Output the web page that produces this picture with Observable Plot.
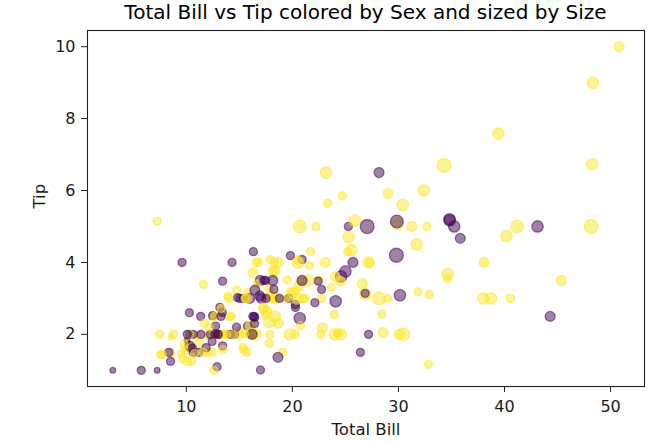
<!DOCTYPE html>
<html>
<head>
<meta charset="utf-8">
<script src="https://cdn.jsdelivr.net/npm/d3@7"></script>
<script src="https://cdn.jsdelivr.net/npm/@observablehq/plot@0.6"></script>
<style>
  body { margin: 0; background: #fff; font-family: "DejaVu Sans", sans-serif; }
  #wrap { position: relative; width: 654px; height: 442px; }
  #title { position: absolute; left: 87px; width: 557px; top: 0px; text-align: center; font-size: 20px; color: #000; white-space: nowrap; z-index: 1; }
  svg { position: absolute; left: 0; top: 0; }
</style>
</head>
<body>
<div id="wrap"><div id="title">Total Bill vs Tip colored by Sex and sized by Size</div></div>
<script>
const totalBill = [16.99,10.34,21.01,23.68,24.59,25.29,8.77,26.88,15.04,14.78,
10.27,35.26,15.42,18.43,14.83,21.58,10.33,16.29,16.97,20.65,
17.92,20.29,15.77,39.42,19.82,17.81,13.37,12.69,21.7,19.65,
9.55,18.35,15.06,20.69,17.78,24.06,16.31,16.93,18.69,31.27,
16.04,17.46,13.94,9.68,30.4,18.29,22.23,32.4,28.55,18.04,
12.54,10.29,34.81,9.94,25.56,19.49,38.01,26.41,11.24,48.27,
20.29,13.81,11.02,18.29,17.59,20.08,16.45,3.07,20.23,15.01,
12.02,17.07,26.86,25.28,14.73,10.51,17.92,27.2,22.76,17.29,
19.44,16.66,10.07,32.68,15.98,34.83,13.03,18.28,24.71,21.16,
28.97,22.49,5.75,16.32,22.75,40.17,27.28,12.03,21.01,12.46,
11.35,15.38,44.3,22.42,20.92,15.36,20.49,25.21,18.24,14.31,
14.0,7.25,38.07,23.95,25.71,17.31,29.93,10.65,12.43,24.08,
11.69,13.42,14.26,15.95,12.48,29.8,8.52,14.52,11.38,22.82,
19.08,20.27,11.17,12.26,18.26,8.51,10.33,14.15,16.0,13.16,
17.47,34.3,41.19,27.05,16.43,8.35,18.64,11.87,9.78,7.51,
14.07,13.13,17.26,24.55,19.77,29.85,48.17,25.0,13.39,16.49,
21.5,12.66,16.21,13.81,17.51,24.52,20.76,31.71,10.59,10.63,
50.81,15.81,7.25,31.85,16.82,32.9,17.89,14.48,9.6,34.63,
34.65,23.33,45.35,23.17,40.55,20.69,20.9,30.46,18.15,23.1,
15.69,19.81,28.44,15.48,16.58,7.56,10.34,43.11,13.0,13.51,
18.71,12.74,13.0,16.4,20.53,16.47,26.59,38.73,24.27,12.76,
30.06,25.89,48.33,13.27,28.17,12.9,28.15,11.59,7.74,30.14,
12.16,13.42,8.58,15.98,13.42,16.27,10.09,20.45,13.28,22.12,
24.01,15.69,11.61,10.77,15.53,10.07,12.6,32.83,35.83,29.03,
27.18,22.67,17.82,18.78];
const tip = [1.01,1.66,3.5,3.31,3.61,4.71,2.0,3.12,1.96,3.23,
1.71,5.0,1.57,3.0,3.02,3.92,1.67,3.71,3.5,3.35,
4.08,2.75,2.23,7.58,3.18,2.34,2.0,2.0,4.3,3.0,
1.45,2.5,3.0,2.45,3.27,3.6,2.0,3.07,2.31,5.0,
2.24,2.54,3.06,1.32,5.6,3.0,5.0,6.0,2.05,3.0,
2.5,2.6,5.2,1.56,4.34,3.51,3.0,1.5,1.76,6.73,
3.21,2.0,1.98,3.76,2.64,3.15,2.47,1.0,2.01,2.09,
1.97,3.0,3.14,5.0,2.2,1.25,3.08,4.0,3.0,2.71,
3.0,3.4,1.83,5.0,2.03,5.17,2.0,4.0,5.85,3.0,
3.0,3.5,1.0,4.3,3.25,4.73,4.0,1.5,3.0,1.5,
2.5,3.0,2.5,3.48,4.08,1.64,4.06,4.29,3.76,4.0,
3.0,1.0,4.0,2.55,4.0,3.5,5.07,1.5,1.8,2.92,
2.31,1.68,2.5,2.0,2.52,4.2,1.48,2.0,2.0,2.18,
1.5,2.83,1.5,2.0,3.25,1.25,2.0,2.0,2.0,2.75,
3.5,6.7,5.0,5.0,2.3,1.5,1.36,1.63,1.73,2.0,
2.5,2.0,2.74,2.0,2.0,5.14,5.0,3.75,2.61,2.0,
3.5,2.5,2.0,2.0,3.0,3.48,2.24,4.5,1.61,2.0,
10.0,3.16,5.15,3.18,4.0,3.11,2.0,2.0,4.0,3.55,
3.68,5.65,3.5,6.5,3.0,5.0,3.5,2.0,3.5,4.0,
1.5,4.19,2.56,2.02,4.0,1.44,2.0,5.0,2.0,2.0,
4.0,2.01,2.0,2.5,4.0,3.23,3.41,3.0,2.03,2.23,
2.0,5.16,9.0,2.5,6.5,1.1,3.0,1.5,1.44,3.09,
2.2,3.48,1.92,3.0,1.58,2.5,2.0,3.0,2.72,2.88,
2.0,3.0,3.39,1.47,3.0,1.25,1.0,1.17,4.67,5.92,
2.0,2.0,1.75,3.0];
const sex = ["F","M","M","M","F","M","M","M","M","M",
"M","F","M","M","F","M","F","M","F","M",
"M","F","F","M","M","M","M","M","M","F",
"M","M","F","F","M","M","M","F","M","M",
"M","M","M","M","M","M","M","M","M","M",
"M","F","F","M","M","M","M","F","M","M",
"M","M","M","M","M","M","F","F","M","M",
"M","F","F","F","F","M","M","M","M","M",
"M","M","F","M","M","F","M","M","M","M",
"M","M","F","F","F","M","M","M","M","M",
"F","F","F","F","F","M","M","M","M","F",
"M","F","M","M","F","F","M","F","F","F",
"M","F","M","M","F","F","M","F","F","M",
"M","F","F","F","F","F","F","F","M","F",
"F","M","M","F","F","F","F","F","M","M",
"M","M","M","M","M","F","M","F","F","M",
"M","M","F","M","F","M","M","M","F","F",
"M","M","M","M","M","M","M","M","F","M",
"M","M","M","M","M","M","F","M","F","M",
"M","F","M","M","M","M","M","F","F","M",
"M","F","F","F","M","F","M","M","M","F",
"M","M","M","F","F","F","M","M","M","F",
"M","F","M","F","M","F","F","M","M","F",
"M","M","M","M","M","M","M","M","F","M",
"F","M","M","F"];
const partySize = [2,3,3,2,4,4,2,4,2,2,
2,4,2,4,2,2,3,3,3,3,
2,2,2,4,2,4,2,2,2,2,
2,4,2,4,2,3,3,3,3,3,
3,2,2,2,4,2,2,4,3,2,
2,2,4,2,4,2,4,2,2,4,
2,2,2,4,3,3,2,1,2,2,
2,3,2,2,2,2,2,4,2,2,
2,2,1,2,2,4,2,2,2,2,
2,2,2,2,2,4,2,2,2,2,
2,2,3,2,2,2,2,2,2,2,
2,1,3,2,3,2,4,2,2,4,
2,2,2,2,2,6,2,2,2,3,
2,2,2,2,2,2,2,2,2,2,
2,6,5,6,2,2,3,2,2,2,
2,2,3,4,4,5,6,4,2,4,
4,2,3,2,2,3,2,4,2,2,
3,2,2,2,2,2,2,2,2,2,
4,2,3,4,2,5,3,5,3,3,
2,2,2,2,2,2,2,4,2,2,
3,2,2,2,4,3,3,4,2,2,
3,4,4,2,3,2,5,2,2,4,
2,2,1,3,2,2,2,4,2,2,
4,3,2,2,2,2,2,2,3,3,
2,2,2,2];
const sexNames = {F: "Female", M: "Male"};
const sexColors = ["#440154", "#fde725"];
const xTicks = [10, 20, 30, 40, 50];
const yTicks = [2, 4, 6, 8, 10];
const xLabel = "Total Bill";
const yLabel = "Tip";

const data = totalBill.map((b, i) => ({bill: b, tip: tip[i], sex: sexNames[sex[i]], size: partySize[i]}));

const chart = Plot.plot({
  width: 654,
  height: 442,
  marginLeft: 87,
  marginRight: 10,
  marginTop: 30,
  marginBottom: 56,
  style: {fontFamily: "DejaVu Sans, sans-serif", fontSize: "16px", color: "#1a1a1a", background: "transparent"},
  x: {domain: [0.683, 53.197]},
  y: {domain: [0.55, 10.45]},
  color: {domain: ["Female", "Male"], range: sexColors},
  r: {type: "sqrt", domain: [0, 6], range: [0, 7.0]},
  marks: [
    Plot.dot(data, {x: "bill", y: "tip", r: "size", fill: "sex", stroke: "sex", fillOpacity: 0.5, strokeOpacity: 0.5, strokeWidth: 1.3, sort: null}),
    Plot.frame({stroke: "#222", strokeWidth: 1.1}),
    Plot.axisX(xTicks, {tickSize: 6, tickPadding: 8, fontSize: 16, label: null, stroke: "#222"}),
    Plot.axisY(yTicks, {tickSize: 6, tickPadding: 6, fontSize: 16, label: null, stroke: "#222"}),
    Plot.text([xLabel], {text: d => d, frameAnchor: "bottom", lineAnchor: "middle", dy: 43.5, fontSize: 16.5, fill: "#1a1a1a"}),
    Plot.text([yLabel], {text: d => d, frameAnchor: "left", lineAnchor: "middle", rotate: -90, dx: -48, fontSize: 16.5, fill: "#1a1a1a"})
  ]
});
document.getElementById("wrap").appendChild(chart);
</script>
</body>
</html>
